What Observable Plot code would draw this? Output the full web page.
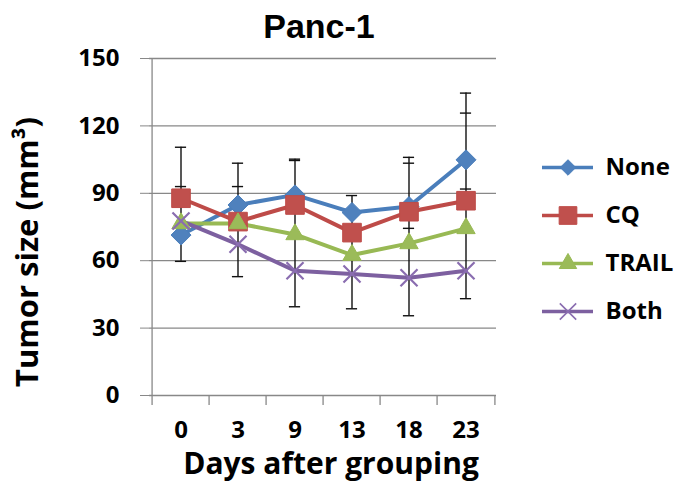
<!DOCTYPE html>
<html><head><meta charset="utf-8">
<script src="https://cdn.jsdelivr.net/npm/d3@7"></script>
<script src="https://cdn.jsdelivr.net/npm/@observablehq/plot@0.6"></script>
<style>
body{margin:0;background:#fff;}
#wrap{position:relative;width:678px;height:491px;}
#legend{position:absolute;left:530px;top:140px;}
svg{font-family:"Open Sans",Lato,sans-serif;font-weight:bold;}
</style></head><body><div id="wrap"><div id="main"></div><div id="legend"></div></div>
<script>
// ---- data ----
const days = ["0", "3", "9", "13", "18", "23"];
const seriesNames = ["None", "CQ", "TRAIL", "Both"];
const noneValues  = [71.4, 84.8, 89.3, 81.5, 84.1, 104.9];
const cqValues    = [87.8, 77.4, 84.8, 72.5, 81.8, 86.7];
const trailValues = [76.6, 76.6, 71.7, 62.5, 67.7, 74.4];
const bothValues  = [77.7, 67.3, 55.5, 54.1, 52.4, 55.5];
// visible error-bar ends (null = no visible end)
const noneErrHigh  = [93.0, 103.4, 105.2, 89.0, 106.0, 134.6];
const noneErrLow   = [59.7, null, null, null, null, null];
const cqErrHigh    = [110.5, 93.0, 104.6, null, 103.4, 125.7];
const trailErrHigh = [null, null, null, null, 74.4, 91.9];
const bothErrLow   = [null, 52.9, 39.5, 38.6, 35.5, 43.1];
const yTicks = [0, 30, 60, 90, 120, 150];
const titleText = "Panc-1";
const xTitle = "Days after grouping";
const yTitle = "Tumor size (mm³)";

// ---- styles ----
const colors = ["#4a7ebb", "#be4b48", "#98b954", "#7d60a0"];
const markerFill = ["#4f81bd", "#c0504d", "#9bbb59", "none"];
const symbols = ["diamond2", "square", "triangle", "times"];
const markerR = [9, 10.5, 6.8, 7.8];
const grey = "#888888";

const valueArrays = [noneValues, cqValues, trailValues, bothValues];
const rows = seriesNames.flatMap((s, k) => days.map((d, i) => ({series: s, day: d, value: valueArrays[k][i]})));
const endArrays = [noneErrHigh, noneErrLow, cqErrHigh, trailErrHigh, bothErrLow];
const caps = endArrays.flatMap(a => days.map((d, i) => ({day: d, y: a[i]}))).filter(c => c.y != null);
const stems = days.map((d, i) => {
  const ys = caps.filter(c => c.day === d).map(c => c.y);
  return {day: d, lo: d3.min(ys), hi: d3.max(ys)};
});

const W = 678, H = 491, mL = 149, mR = 182, mT = 58, mB = 96;
const bw = (W - mL - mR) / days.length;

const marks = [
  Plot.gridY(yTicks, {stroke: grey, strokeOpacity: 1, strokeWidth: 1.3}),
  Plot.ruleX([days[0]], {dx: -bw / 2, stroke: grey, strokeWidth: 1.3}),
  Plot.ruleX(days, {x: d => d, y1: 0, y2: 0, insetBottom: -10, dx: -bw / 2, stroke: grey, strokeWidth: 1.3}),
  Plot.ruleX([days[days.length - 1]], {x: d => d, y1: 0, y2: 0, insetBottom: -10, dx: bw / 2, stroke: grey, strokeWidth: 1.3}),
  Plot.axisY({ticks: yTicks, tickSize: 9, tickPadding: 21, fontSize: 24, stroke: grey, fill: "black", label: null}),
  Plot.axisX({tickSize: 0, tickPadding: 25, fontSize: 24, fill: "black", label: null}),
  Plot.ruleX(stems, {x: "day", y1: "lo", y2: "hi", stroke: "#111", strokeWidth: 1.4}),
  Plot.tickY(caps, {x: "day", y: "y", stroke: "#111", strokeWidth: 1.4, insetLeft: bw / 2 - 6, insetRight: bw / 2 - 6}),
];
seriesNames.forEach((s, k) => {
  const data = rows.filter(r => r.series === s);
  marks.push(Plot.line(data, {x: "day", y: "value", stroke: colors[k], strokeWidth: 4}));
});
seriesNames.forEach((s, k) => {
  const data = rows.filter(r => r.series === s);
  if (symbols[k] === "times")
    marks.push(Plot.dot(data, {x: "day", y: "value", symbol: "times", r: markerR[k], stroke: "#8a6db0", strokeWidth: 2.2}));
  else
    marks.push(Plot.dot(data, {x: "day", y: "value", symbol: symbols[k], r: markerR[k], fill: markerFill[k], stroke: colors[k], strokeWidth: 1}));
});
marks.push(
  Plot.text([titleText], {frameAnchor: "top", dx: -4, dy: -20.3, lineAnchor: "bottom", fontSize: 34, fontFamily: "Liberation Sans, Arial, sans-serif", fill: "black"}),
  Plot.text([xTitle], {frameAnchor: "bottom", textAnchor: "middle", dx: 8, dy: 78, lineAnchor: "bottom", fontSize: 30, fill: "black"}),
  Plot.text([yTitle], {frameAnchor: "left", textAnchor: "middle", rotate: -90, dx: -121, dy: 25, lineAnchor: "middle", fontSize: 31, fill: "black"})
);

const chart = Plot.plot({
  width: W, height: H, marginLeft: mL, marginRight: mR, marginTop: mT, marginBottom: mB,
  x: {type: "band", domain: days, padding: 0, axis: null},
  y: {domain: [0, 150], axis: null},
  marks
});
document.getElementById("main").append(chart);

// ---- legend ----
const legendMarks = [];
seriesNames.forEach((s, k) => {
  legendMarks.push(Plot.ruleY([s], {y: d => d, x1: 0, x2: 1, stroke: colors[k], strokeWidth: 3.5}));
  if (symbols[k] === "times")
    legendMarks.push(Plot.dot([s], {x: 0.5, y: d => d, symbol: "times", r: 7.5, stroke: "#8a6db0", strokeWidth: 1.6}));
  else
    legendMarks.push(Plot.dot([s], {x: 0.5, y: d => d, symbol: symbols[k], r: k === 0 ? 7 : markerR[k] * 0.95, fill: markerFill[k], stroke: colors[k], strokeWidth: 1}));
});
legendMarks.push(Plot.text(seriesNames, {x: 1, y: d => d, dx: 12, textAnchor: "start", fontSize: 24, fill: "black"}));
const legend = Plot.plot({
  width: 148, height: 200, marginLeft: 12, marginRight: 85, marginTop: 26.7, marginBottom: 28.3,
  x: {domain: [0, 1], axis: null},
  y: {type: "point", domain: seriesNames, padding: 0, axis: null},
  marks: legendMarks
});
document.getElementById("legend").append(legend);
</script></body></html>
